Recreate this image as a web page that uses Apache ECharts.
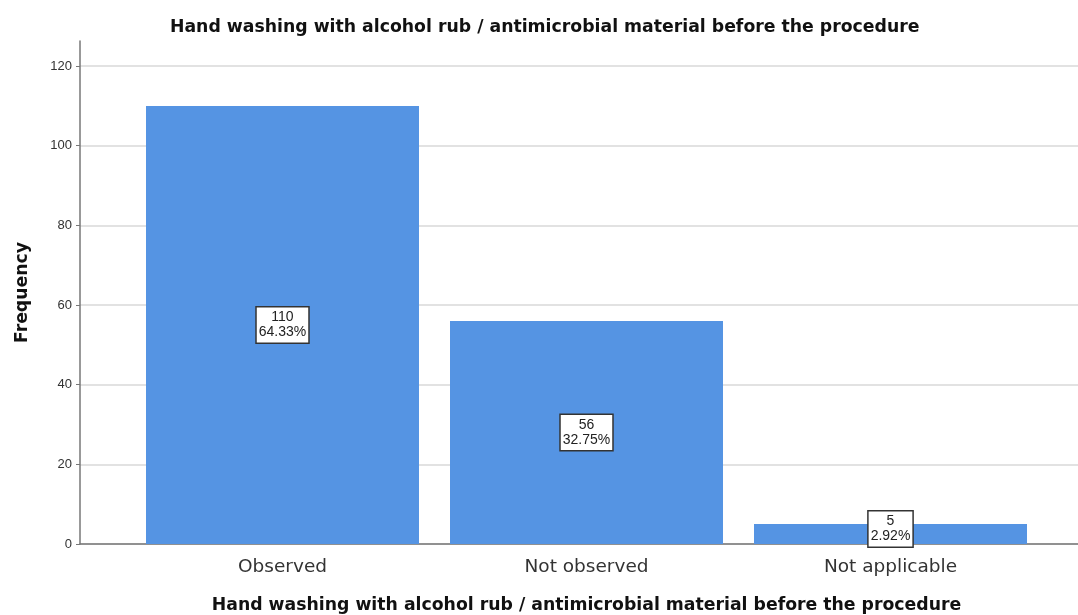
<!DOCTYPE html>
<html><head><meta charset="utf-8">
<script src="https://cdn.jsdelivr.net/npm/echarts@6/dist/echarts.min.js"></script>
<style>html,body{margin:0;padding:0;background:#fff}#c{width:1078px;height:615px}</style>
</head><body><div id="c"></div>
<script>
const categories = ['Observed', 'Not observed', 'Not applicable'];
const counts = [110, 56, 5];
const percents = ['64.33%', '32.75%', '2.92%'];
const yTicks = [0, 20, 40, 60, 80, 100, 120];
const titleText = 'Hand washing with alcohol rub / antimicrobial material before the procedure';

const chart = echarts.init(document.getElementById('c'));
const yMax = 126.3;
const boldFont = { fontFamily: 'DejaVu Sans', fontWeight: 'bold', fontSize: 17.3, color: '#111' };
// keep the label box above the x axis for very short bars
const barData = counts.map(v => v < 10 ? { value: v, label: { offset: [0, -5] } } : v);
chart.setOption({
  animation: false,
  title: { text: titleText, left: 165, top: 14, textStyle: boldFont },
  grid: [
    { left: 80, right: 0, top: 41, bottom: 71, outerBoundsMode: 'none', containLabel: false },
    { left: 130.5, right: 35.5, top: 41, bottom: 71, outerBoundsMode: 'none', containLabel: false }
  ],
  xAxis: [
    { gridIndex: 0, type: 'value', min: 0, max: 1, axisLine: { show: true, lineStyle: { color: '#777', width: 1.5 } },
      axisTick: { show: false }, axisLabel: { show: false }, splitLine: { show: false } },
    { gridIndex: 1, type: 'category', data: categories,
      axisLine: { show: false }, axisTick: { show: false },
      axisLabel: { margin: 14, fontFamily: 'DejaVu Sans', fontSize: 18.5, color: '#333' },
      name: titleText, nameLocation: 'middle', nameGap: 53,
      nameTextStyle: boldFont }
  ],
  yAxis: [
    { gridIndex: 0, type: 'value', min: 0, max: yMax, interval: 20,
      axisLine: { show: true, lineStyle: { color: '#777', width: 1.5 } },
      axisTick: { show: true, length: 4, lineStyle: { color: '#777' } },
      axisLabel: { fontFamily: 'Liberation Sans', fontSize: 13, color: '#333', margin: 8,
        formatter: v => yTicks.includes(v) ? String(v) : '', showMaxLabel: false },
      splitLine: { show: true, showMaxLine: false, lineStyle: { color: '#d8d8d8', width: 1.5 } },
      name: 'Frequency', nameLocation: 'middle', nameGap: 49, nameRotate: 90,
      nameTextStyle: boldFont },
    { gridIndex: 1, type: 'value', min: 0, max: yMax, show: false, splitLine: { show: false } }
  ],
  series: [{
    type: 'bar', xAxisIndex: 1, yAxisIndex: 1,
    data: barData, barWidth: 273,
    itemStyle: { color: '#5594e3' },
    label: { show: true, position: 'inside',
      formatter: p => p.value + '\n' + percents[p.dataIndex],
      fontFamily: 'Liberation Sans', fontSize: 14, lineHeight: 15, color: '#222',
      backgroundColor: '#fff', borderColor: '#333', borderWidth: 1.5, padding: [3, 2, 2, 2] }
  }]
});
</script></body></html>
